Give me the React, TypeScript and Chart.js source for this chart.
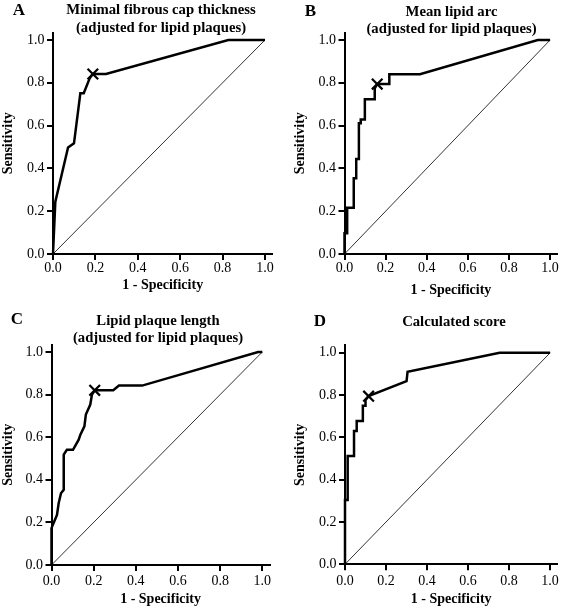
import React, { useEffect, useRef } from "react";
import { Chart, registerables } from "chart.js";

Chart.register(...registerables);

const FONT = '"Liberation Serif", "Times New Roman", serif';

// Axis ticks shared by all panels
const TICKS = [0, 0.2, 0.4, 0.6, 0.8, 1.0];

// Panel A: Minimal fibrous cap thickness
const A_X = [0, 0.011, 0.071, 0.099, 0.129, 0.145, 0.173, 0.188, 0.25, 0.827, 1.0];
const A_Y = [0, 0.244, 0.498, 0.517, 0.751, 0.751, 0.821, 0.841, 0.841, 1.0, 1.0];
const A_CUT = [0.188, 0.841];

// Panel B: Mean lipid arc
const B_X = [0, 0, 0.013, 0.013, 0.045, 0.045, 0.057, 0.057, 0.07, 0.07, 0.079, 0.079, 0.099, 0.099, 0.147, 0.147, 0.159, 0.218, 0.218, 0.367, 0.94, 1.0];
const B_Y = [0, 0.097, 0.097, 0.216, 0.216, 0.354, 0.354, 0.444, 0.444, 0.611, 0.611, 0.629, 0.629, 0.723, 0.723, 0.774, 0.794, 0.794, 0.84, 0.84, 1.0, 1.0];
const B_CUT = [0.159, 0.794];

// Panel C: Lipid plaque length
const C_X = [0, 0, 0.013, 0.026, 0.034, 0.045, 0.058, 0.058, 0.073, 0.102, 0.129, 0.137, 0.156, 0.163, 0.184, 0.192, 0.205, 0.293, 0.32, 0.43, 0.98, 1.0];
const C_Y = [0, 0.173, 0.204, 0.235, 0.29, 0.337, 0.353, 0.518, 0.541, 0.541, 0.588, 0.612, 0.651, 0.706, 0.753, 0.8, 0.82, 0.82, 0.842, 0.842, 1.0, 1.0];
const C_CUT = [0.205, 0.82];

// Panel D: Calculated score
const D_X = [0, 0, 0.013, 0.013, 0.044, 0.044, 0.057, 0.057, 0.087, 0.087, 0.1, 0.1, 0.115, 0.3, 0.305, 0.754, 1.0];
const D_Y = [0, 0.304, 0.304, 0.512, 0.512, 0.63, 0.63, 0.678, 0.678, 0.75, 0.75, 0.777, 0.795, 0.866, 0.91, 1.0, 1.0];
const D_CUT = [0.115, 0.795];

const DIAG_X = [0, 1];
const DIAG_Y = [0, 1];

type Cfg = {
  letter: string;
  title: string[];
  xs: number[];
  ys: number[];
  cut: number[];
  W: number;
  H: number;
  left: number;
  right: number;
  top: number;
  bottom: number;
  xTitleY: number;
  yTitleX: number;
  xTickPad: number;
  letterX: number;
  letterY: number;
  titleX: number;
  titleY: number[];
  px: number;
  py: number;
};

const PANELS: Cfg[] = [
  {
    letter: "A", title: ["Minimal fibrous cap thickness", "(adjusted for lipid plaques)"],
    xs: A_X, ys: A_Y, cut: A_CUT, W: 284, H: 305,
    left: 53, right: 272.4, top: 32.5, bottom: 254, xTitleY: 285, yTitleX: 8.4, xTickPad: 0,
    letterX: 18.8, letterY: 11, titleX: 161, titleY: [10.5, 28.5], px: 0, py: 0,
  },
  {
    letter: "B", title: ["Mean lipid arc", "(adjusted for lipid plaques)"],
    xs: B_X, ys: B_Y, cut: B_CUT, W: 283, H: 305,
    left: 60.5, right: 280.1, top: 32.5, bottom: 254, xTitleY: 290, yTitleX: 16.7, xTickPad: 0,
    letterX: 26.5, letterY: 11.5, titleX: 167.5, titleY: [12, 29.5], px: 284, py: 0,
  },
  {
    letter: "C", title: ["Lipid plaque length", "(adjusted for lipid plaques)"],
    xs: C_X, ys: C_Y, cut: C_CUT, W: 284, H: 305,
    left: 51.5, right: 269.7, top: 39.5, bottom: 260, xTitleY: 294.3, yTitleX: 8.4, xTickPad: 2.3,
    letterX: 17, letterY: 15, titleX: 158, titleY: [16.5, 33.5], px: 0, py: 305,
  },
  {
    letter: "D", title: ["Calculated score"],
    xs: D_X, ys: D_Y, cut: D_CUT, W: 283, H: 305,
    left: 61, right: 279.4, top: 40.4, bottom: 259.3, xTitleY: 294.3, yTitleX: 16.7, xTickPad: 3,
    letterX: 36, letterY: 17, titleX: 170, titleY: [17], px: 284, py: 305,
  },
];

function axis(title: string, tickPad: number, fitSize: (s: any) => void) {
  return {
    type: "linear" as const,
    min: 0,
    max: 1.035,
    afterBuildTicks: (s: any) => {
      s.ticks = TICKS.map((v) => ({ value: v }));
    },
    afterFit: (s: any) => {
      fitSize(s);
      s.paddingLeft = 0;
      s.paddingRight = 0;
      s.paddingTop = 0;
      s.paddingBottom = 0;
    },
    ticks: {
      callback: (v: any) => Number(v).toFixed(1),
      color: "#000",
      font: { family: FONT, size: 14 },
      padding: tickPad,
      autoSkip: false,
      maxRotation: 0,
    },
    grid: {
      drawOnChartArea: false,
      drawTicks: true,
      tickLength: 6,
      color: "#000",
      tickColor: "#000",
      tickWidth: 2,
      lineWidth: 2,
    },
    border: { display: true, color: "#000", width: 2 },
    title: {
      display: true,
      text: title,
      color: "#000",
      font: { family: FONT, size: 14, weight: "bold" as const, lineHeight: 1.2 },
      padding: 0,
    },
  };
}

function Panel({ cfg }: { cfg: Cfg }) {
  const ref = useRef<HTMLCanvasElement>(null);
  useEffect(() => {
    if (!ref.current) return;
    const half = 8.4;
    const pl = cfg.yTitleX - half;
    const wy = cfg.left - pl;
    const pr = cfg.W - cfg.right;
    const pt = cfg.top;
    const hx = cfg.xTitleY + half - cfg.bottom;
    const pb = cfg.H - cfg.bottom - hx;

    const textPlugin = {
      id: "panelText" + cfg.letter,
      afterDraw(chart: any) {
        const ctx = chart.ctx;
        ctx.save();
        ctx.fillStyle = "#000";
        ctx.textAlign = "center";
        ctx.textBaseline = "middle";
        ctx.font = `bold 17px ${FONT}`;
        ctx.fillText(cfg.letter, cfg.letterX, cfg.letterY);
        ctx.font = `bold 14.7px ${FONT}`;
        cfg.title.forEach((t, i) => ctx.fillText(t, cfg.titleX, cfg.titleY[i]));
        ctx.restore();
      },
    };

    const chart = new Chart(ref.current, {
      type: "scatter",
      data: {
        datasets: [
          {
            data: [{ x: cfg.cut[0], y: cfg.cut[1] }],
            showLine: false,
            pointStyle: "crossRot",
            pointRadius: 7.5,
            borderColor: "#000",
            backgroundColor: "#000",
            borderWidth: 2.2,
            clip: false as any,
          },
          {
            data: cfg.xs.map((v, i) => ({ x: v, y: cfg.ys[i] })),
            showLine: true,
            borderColor: "#000",
            borderWidth: 2.5,
            pointRadius: 0,
            tension: 0,
            clip: 4 as any,
          },
          {
            data: DIAG_X.map((v, i) => ({ x: v, y: DIAG_Y[i] })),
            showLine: true,
            borderColor: "#333",
            borderWidth: 1,
            pointRadius: 0,
          },
        ],
      },
      options: {
        animation: false,
        responsive: false,
        events: [],
        layout: { padding: { left: pl, right: pr, top: pt, bottom: pb } },
        plugins: { legend: { display: false }, tooltip: { enabled: false }, title: { display: false } },
        scales: {
          x: axis("1 - Specificity", cfg.xTickPad, (s) => { s.height = hx; }) as any,
          y: axis("Sensitivity", 2.5, (s) => { s.width = wy; }) as any,
        },
      },
      plugins: [textPlugin],
    });
    return () => chart.destroy();
  }, [cfg]);

  return (
    <canvas
      ref={ref}
      width={cfg.W}
      height={cfg.H}
      style={{ position: "absolute", left: cfg.px, top: cfg.py, width: cfg.W, height: cfg.H }}
    />
  );
}

export default function App() {
  return (
    <div style={{ position: "absolute", left: 0, top: 0, width: 567, height: 610, background: "#fff" }}>
      {PANELS.map((p) => (
        <Panel key={p.letter} cfg={p} />
      ))}
    </div>
  );
}
